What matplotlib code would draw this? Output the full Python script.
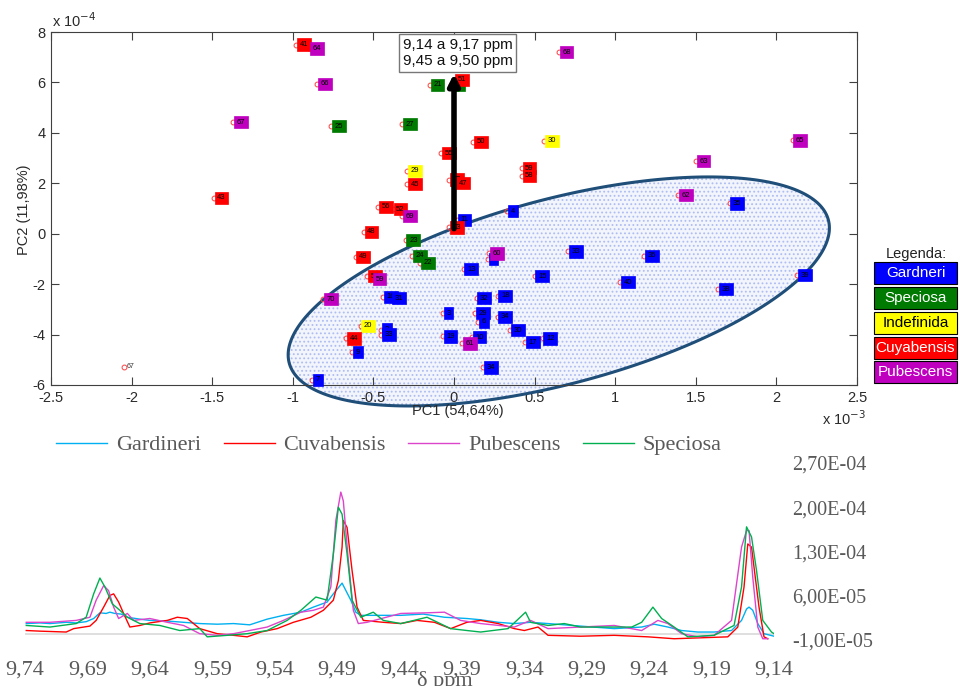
import numpy as np
import matplotlib
matplotlib.use('Agg')
import matplotlib.pyplot as plt
from matplotlib.patches import Polygon, Rectangle

plt.rcParams['axes.unicode_minus'] = False
plt.rcParams['hatch.linewidth'] = 0.8

"""#########################################################################"""
# PCA scores: PC1 in units of 1e-3, PC2 in units of 1e-4

gard_lbl = ['11', '4', '35', '5', '33', '36', '13', '15', '40', '39', '38', '32', '18',
            '3', '29', '6', '34', '30', '19', '10', '17', '12', '34', '16', '31', '2',
            '33', '9', '7']
gard_pc1 = [0.02, 0.33, 1.71, 0.21, 0.71, 1.18, 0.06, 0.50, 1.03, 2.13, 1.64, 0.14, 0.27,
            -0.07, 0.13, 0.15, 0.27, 0.35, -0.07, 0.11, 0.44, 0.55, 0.18, -0.44, -0.39, -0.45,
            -0.45, -0.63, -0.88]
gard_pc2 = [0.55, 0.90, 1.20, -1.00, -0.70, -0.88, -1.40, -1.68, -1.92, -1.65, -2.20, -2.55, -2.47,
            -3.15, -3.15, -3.50, -3.30, -3.82, -4.07, -4.10, -4.30, -4.15, -5.30, -2.50, -2.55, -3.80,
            -4.00, -4.70, -5.80]

spec_lbl = ['21', '26', '25', '27', '23', '24', '22']
spec_pc1 = [-0.15, -0.02, -0.76, -0.32, -0.30, -0.26, -0.21]
spec_pc2 = [5.90, 5.90, 4.27, 4.35, -0.25, -0.88, -1.15]

indef_lbl = ['29', '30', '20']
indef_pc1 = [-0.29, 0.56, -0.58]
indef_pc2 = [2.50, 3.68, -3.65]

cuya_lbl = ['41', '54', '51', '55', '50', '45', '42', '47', '59', '58', '43', '56', '52',
            '48', '53', '49', '57', '44']
cuya_pc1 = [-0.98, -0.24, 0.00, -0.08, 0.12, -0.29, -0.03, 0.01, 0.42, 0.42, -1.49, -0.47, -0.38,
            -0.56, -0.03, -0.61, -0.54, -0.67]
cuya_pc2 = [7.50, 7.25, 6.10, 3.20, 3.65, 1.97, 2.15, 2.00, 2.60, 2.30, 1.42, 1.06, 0.98,
            0.07, 0.25, -0.92, -1.68, -4.15]

pube_lbl = ['64', '66', '67', '68', '65', '63', '62', '69', '60', '59', '70', '61']
pube_pc1 = [-0.90, -0.85, -1.37, 0.65, 2.10, 1.50, 1.39, -0.32, 0.22, -0.51, -0.81, 0.05]
pube_pc2 = [7.35, 5.94, 4.43, 7.20, 3.70, 2.88, 1.53, 0.70, -0.78, -1.80, -2.60, -4.35]

outlier_lbl = '67'
outlier_pc1 = -2.05
outlier_pc2 = -5.28

# confidence ellipse (centre and semi-axis vectors, same units)
ell_center = (0.65, -2.29)
ell_u = (1.672, 2.845)
ell_v = (-0.151, 3.54)

pc1_ticks = [-2.5, -2, -1.5, -1, -0.5, 0, 0.5, 1, 1.5, 2, 2.5]
pc2_ticks = [-6, -4, -2, 0, 2, 4, 6, 8]

legend_names = ['Gardneri', 'Speciosa', 'Indefinida', 'Cuyabensis', 'Pubescens']
legend_colors = ['#0000ff', '#007a00', '#ffff00', '#ff0000', '#bf00bf']
legend_txtcol = ['white', 'white', 'black', 'white', 'white']

"""#########################################################################"""
# 1H NMR spectra, delta in ppm, intensity in units of 1e-5

gard_ppm = [9.739, 9.728, 9.720, 9.707, 9.699, 9.691, 9.685, 9.680, 9.675, 9.672, 9.668, 9.663,
            9.658, 9.648, 9.640, 9.626, 9.613, 9.600, 9.586, 9.573, 9.560, 9.546, 9.533, 9.519,
            9.509, 9.498, 9.493, 9.486, 9.479, 9.475, 9.471, 9.453, 9.439, 9.421, 9.404, 9.386,
            9.375, 9.361, 9.348, 9.335, 9.321, 9.295, 9.268, 9.246, 9.236, 9.225, 9.214, 9.201,
            9.188, 9.174, 9.166, 9.162, 9.160, 9.157, 9.153, 9.148, 9.140]
gard_int = [1.6, 1.7, 1.6, 1.8, 1.7, 1.9, 2.4, 3.3, 3.2, 3.4, 3.2, 3.1,
            2.6, 2.3, 2.1, 2.0, 1.8, 1.6, 1.5, 1.6, 1.4, 2.3, 2.9, 3.4,
            4.2, 5.0, 6.3, 8.0, 5.3, 3.4, 2.9, 2.9, 2.9, 3.1, 2.6, 2.4,
            2.2, 1.8, 1.6, 1.8, 1.6, 1.2, 0.8, 1.05, 1.5, 1.05, 0.5, 0.26,
            0.26, 0.5, 2.1, 3.9, 4.2, 3.7, 1.6, 0.0, -0.4]

cuva_ppm = [9.739, 9.728, 9.707, 9.701, 9.688, 9.683, 9.677, 9.672, 9.669, 9.665, 9.661, 9.656,
            9.648, 9.640, 9.626, 9.618, 9.610, 9.600, 9.586, 9.573, 9.562, 9.551, 9.538, 9.525,
            9.511, 9.501, 9.493, 9.489, 9.486, 9.485, 9.482, 9.478, 9.474, 9.469, 9.453, 9.439,
            9.426, 9.412, 9.399, 9.386, 9.375, 9.361, 9.348, 9.340, 9.329, 9.321, 9.295, 9.268,
            9.241, 9.220, 9.177, 9.169, 9.164, 9.161, 9.158, 9.156, 9.152, 9.148, 9.145]
cuva_int = [0.5, 0.4, 0.26, 0.8, 1.2, 2.1, 4.2, 6.05, 6.3, 5.0, 3.2, 1.05,
            1.3, 1.7, 2.1, 2.6, 2.4, 0.8, 0.0, -0.26, -0.5, 0.26, 0.8, 1.8,
            2.6, 3.7, 5.3, 8.4, 13.7, 17.9, 16.8, 10.0, 4.2, 2.1, 1.8, 1.6,
            2.1, 1.8, 0.8, 1.8, 2.1, 1.6, 0.8, 0.5, 1.05, -0.26, -0.4, -0.26,
            -0.5, -0.8, -0.5, 1.05, 7.4, 14.2, 13.7, 10.5, 4.2, -0.5, -0.8]

pube_ppm = [9.739, 9.720, 9.699, 9.688, 9.683, 9.677, 9.673, 9.669, 9.665, 9.658, 9.653, 9.640,
            9.626, 9.613, 9.600, 9.586, 9.573, 9.560, 9.546, 9.533, 9.519, 9.509, 9.501, 9.495,
            9.491, 9.487, 9.485, 9.481, 9.477, 9.473, 9.466, 9.439, 9.418, 9.404, 9.391, 9.375,
            9.348, 9.335, 9.321, 9.295, 9.268, 9.246, 9.233, 9.225, 9.214, 9.201, 9.188, 9.174,
            9.166, 9.162, 9.160, 9.157, 9.153, 9.149, 9.145]
pube_int = [1.8, 1.8, 2.1, 2.6, 5.3, 7.6, 6.8, 4.2, 2.4, 3.2, 2.1, 2.4,
            1.8, 1.3, 0.0, -0.26, 0.0, 0.5, 1.05, 2.1, 3.4, 3.7, 4.2, 7.4,
            17.9, 22.4, 21.0, 11.6, 3.7, 1.6, 1.8, 3.2, 3.3, 3.4, 2.1, 1.6,
            1.05, 2.1, 0.8, 1.05, 1.3, 0.5, 2.1, 1.6, 0.0, -0.5, -0.26, 2.1,
            13.7, 16.3, 16.3, 8.9, 1.05, -0.8, -0.8]

spec_ppm = [9.739, 9.720, 9.699, 9.691, 9.685, 9.680, 9.676, 9.670, 9.664, 9.658, 9.648, 9.632,
            9.616, 9.600, 9.594, 9.578, 9.562, 9.546, 9.530, 9.519, 9.507, 9.498, 9.493, 9.489,
            9.486, 9.482, 9.478, 9.471, 9.461, 9.453, 9.439, 9.418, 9.399, 9.386, 9.375, 9.353,
            9.339, 9.335, 9.321, 9.308, 9.295, 9.268, 9.254, 9.246, 9.237, 9.230, 9.220, 9.209,
            9.188, 9.172, 9.166, 9.162, 9.158, 9.154, 9.149, 9.142, 9.140]
spec_int = [1.3, 1.05, 1.6, 2.6, 6.3, 8.8, 7.4, 4.7, 3.7, 2.6, 1.6, 1.3,
            0.5, 0.8, -0.5, -0.26, 0.0, 0.5, 2.1, 3.7, 5.8, 5.3, 12.6, 20.0,
            18.9, 12.6, 5.3, 2.6, 3.4, 2.1, 1.6, 2.6, 0.8, 0.5, 0.26, 0.8,
            3.4, 1.8, 1.3, 1.6, 1.05, 1.05, 1.05, 1.8, 4.2, 2.4, 1.05, -0.5,
            -0.26, 1.3, 7.4, 16.9, 15.3, 10.0, 2.1, 0.26, 0.0]

ppm_ticks = [9.74, 9.69, 9.64, 9.59, 9.54, 9.49, 9.44, 9.39, 9.34, 9.29, 9.24, 9.19, 9.14]
int_ticks = [2.7e-4, 2.0e-4, 1.3e-4, 6.0e-5, -1.0e-5]

"""#########################################################################"""

W, H = 959.0, 686.0
fig = plt.figure(figsize=(9.59, 6.86), dpi=100)
fig.patch.set_facecolor('white')

sans = 'Liberation Sans'
serif = 'Liberation Serif'

# ---------------- PCA score plot ----------------
ax = fig.add_axes([51 / W, 1 - 385 / H, 806 / W, 353 / H])
ax.set_xlim(-2.5, 2.5)
ax.set_ylim(-6, 8)
ax.set_xticks(pc1_ticks)
ax.set_xticklabels(['%g' % v for v in pc1_ticks])
ax.set_yticks(pc2_ticks)
ax.set_yticklabels(['%g' % v for v in pc2_ticks])
ax.tick_params(direction='in', top=True, right=True, length=6, width=0.8,
               labelsize=10.5, colors='#404040', labelcolor='#2a2a2a', pad=4)
for lbl in ax.get_xticklabels() + ax.get_yticklabels():
    lbl.set_family(sans)
for sp in ax.spines.values():
    sp.set_color('#404040')
    sp.set_linewidth(0.8)

# ellipse
t = np.linspace(0, 2 * np.pi, 300)
ex = ell_center[0] + np.cos(t) * ell_u[0] + np.sin(t) * ell_v[0]
ey = ell_center[1] + np.cos(t) * ell_u[1] + np.sin(t) * ell_v[1]
pts = np.column_stack([ex, ey])
ax.add_patch(Polygon(pts, closed=True, facecolor='#f3f5fd', edgecolor='#aebdf2',
                     hatch='....', lw=0, clip_on=False, zorder=1))
ax.add_patch(Polygon(pts, closed=True, fill=False, edgecolor='#1f4e79', lw=2.2,
                     clip_on=False, zorder=2))

groups = [(gard_lbl, gard_pc1, gard_pc2, legend_colors[0]),
          (spec_lbl, spec_pc1, spec_pc2, legend_colors[1]),
          (indef_lbl, indef_pc1, indef_pc2, legend_colors[2]),
          (cuya_lbl, cuya_pc1, cuya_pc2, legend_colors[3]),
          (pube_lbl, pube_pc1, pube_pc2, legend_colors[4])]

for lbls, xs, ys, col in groups:
    ax.plot(xs, ys, 'o', ms=3.5, mfc='none', mec='#ff4040', mew=0.7, zorder=3)
    for lb, x, y in zip(lbls, xs, ys):
        ax.annotate(lb, (x, y), xytext=(2.5, 0), textcoords='offset points',
                    ha='left', va='center', fontsize=5.5, family=sans, color='black',
                    bbox=dict(boxstyle='square,pad=0.35', fc=col, ec=col, lw=0.5),
                    zorder=4)

ax.plot([outlier_pc1], [outlier_pc2], 'o', ms=3.5, mfc='none', mec='#ff4040', mew=0.7, zorder=3)
ax.annotate(outlier_lbl, (outlier_pc1, outlier_pc2), xytext=(2.5, 0), textcoords='offset points',
            ha='left', va='center', fontsize=5, family=sans, color='#333333', zorder=4)

# arrow
ax.annotate('', xy=(0, 6.35), xytext=(0, 0.2),
            arrowprops=dict(arrowstyle='-|>', lw=4, color='black', mutation_scale=16,
                            shrinkA=0, shrinkB=0), zorder=5)

fig.text(457.5 / W, 1 - 53 / H, '9,14 a 9,17 ppm\n9,45 a 9,50 ppm', ha='center', va='center',
         fontsize=11, family=sans, color='#111111', linespacing=1.15, zorder=6,
         bbox=dict(boxstyle='square,pad=0.25', fc='white', ec='#777777', lw=1))

fig.text(24 / W, 1 - 210 / H, 'PC2 (11,98%)', rotation=90, ha='center', va='center',
         fontsize=10.5, family=sans, color='#2a2a2a')
fig.text(458 / W, 1 - 411 / H, 'PC1 (54,64%)', ha='center', va='center',
         fontsize=10.5, family=sans, color='#2a2a2a')
fig.text(52 / W, 1 - 27 / H, r'x 10$^{-4}$', ha='left', va='baseline',
         fontsize=10.5, family=sans, color='#2a2a2a')
fig.text(822 / W, 1 - 425 / H, r'x 10$^{-3}$', ha='left', va='baseline',
         fontsize=10.5, family=sans, color='#2a2a2a')

# legend of groups
fig.text(916 / W, 1 - 254 / H, 'Legenda:', ha='center', va='center',
         fontsize=10.5, family=sans, color='#222222')
box_top = [262, 287, 312, 337, 361]
for name, col, tc, top in zip(legend_names, legend_colors, legend_txtcol, box_top):
    fig.patches.append(Rectangle((874 / W, 1 - (top + 22) / H), 83 / W, 22 / H,
                                 transform=fig.transFigure, fc=col, ec='black', lw=0.8))
    fig.text(915.5 / W, 1 - (top + 11) / H, name, ha='center', va='center',
             fontsize=11, family=sans, color=tc)

# ---------------- spectra ----------------
ax2 = fig.add_axes([25 / W, 1 - 640 / H, 749 / W, 177 / H])
ax2.set_xlim(9.74, 9.14)
ax2.set_ylim(-1e-5, 2.7e-4)
for sp in ax2.spines.values():
    sp.set_visible(False)
ax2.patch.set_alpha(0)
ax2.axhline(0, color='#d9d9d9', lw=1.2, zorder=0)

series = [(gard_ppm, gard_int, '#00b0f0', 'Gardineri'),
          (cuva_ppm, cuva_int, '#ff0000', 'Cuvabensis'),
          (pube_ppm, pube_int, '#dd44cc', 'Pubescens'),
          (spec_ppm, spec_int, '#00b050', 'Speciosa')]
handles = []
for xs, ys, col, name in series:
    ln, = ax2.plot(xs, np.array(ys) * 1e-5, color=col, lw=1.0, label=name)
    handles.append(ln)

ax2.set_xticks(ppm_ticks)
ax2.set_xticklabels([('%.2f' % v).replace('.', ',') for v in ppm_ticks])
ax2.yaxis.tick_right()
ax2.set_yticks(int_ticks)
ax2.set_yticklabels([('%.2E' % v).replace('.', ',') for v in int_ticks])
ax2.tick_params(axis='x', length=0, pad=15, labelsize=16, labelcolor='#595959')
ax2.tick_params(axis='y', length=0, pad=13, labelsize=14.5, labelcolor='#595959')
for lbl in ax2.get_xticklabels() + ax2.get_yticklabels():
    lbl.set_family(serif)

fig.legend(handles, [h.get_label() for h in handles], ncol=4, loc='center',
           bbox_to_anchor=(389 / W, 1 - 445 / H), frameon=False,
           prop={'family': serif, 'size': 16}, labelcolor='#595959',
           handlelength=2.3, handletextpad=0.4, columnspacing=1.0)

fig.text(445 / W, 1 - 681 / H, 'δ ppm', ha='center', va='center', fontsize=16,
         family=serif, color='#595959')

fig.savefig('out.png', dpi=100)
